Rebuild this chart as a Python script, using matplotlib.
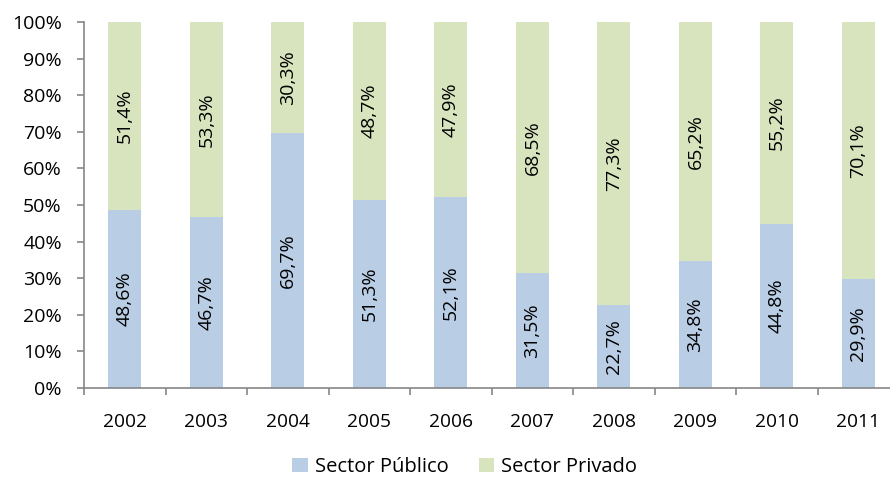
import numpy as np
import matplotlib.pyplot as plt
from matplotlib.ticker import FixedLocator, PercentFormatter

plt.rcParams['font.family'] = ['Open Sans', 'DejaVu Sans']

years = ['2002', '2003', '2004', '2005', '2006', '2007', '2008', '2009', '2010', '2011']
publico = [48.6, 46.7, 69.7, 51.3, 52.1, 31.5, 22.7, 34.8, 44.8, 29.9]
privado = [51.4, 53.3, 30.3, 48.7, 47.9, 68.5, 77.3, 65.2, 55.2, 70.1]

c_pub = '#B9CDE5'
c_priv = '#D7E4BD'
axis_col = '#868686'

fig = plt.figure(figsize=(8.9, 4.79), dpi=100)
# plot area runs slightly past the right edge, as in the original
ax = fig.add_axes([0.0944, 0.19, 0.916, 0.764])
ax.spines['bottom'].set_clip_on(False)

x = np.arange(len(years))
b1 = ax.bar(x, publico, width=0.405, color=c_pub, label='Sector Público')
b2 = ax.bar(x, privado, width=0.405, bottom=publico, color=c_priv, label='Sector Privado')

for i in range(len(years)):
    ax.text(x[i], publico[i] / 2, f'{publico[i]:.1f}%'.replace('.', ','),
            rotation=90, ha='center', va='center', fontsize=14, color='black')
    ax.text(x[i], publico[i] + privado[i] / 2, f'{privado[i]:.1f}%'.replace('.', ','),
            rotation=90, ha='center', va='center', fontsize=14, color='black')

ax.set_xlim(-0.5, len(years) - 0.5)
ax.set_ylim(0, 100)
ax.set_yticks(np.arange(0, 101, 10))
ax.yaxis.set_major_formatter(PercentFormatter(decimals=0))
ax.set_xticks(x)
ax.set_xticklabels(years)
ax.xaxis.set_minor_locator(FixedLocator(np.arange(-0.5, len(years), 1)))
ax.tick_params(axis='x', which='major', length=0, pad=18, labelsize=13.8)
ax.tick_params(axis='x', which='minor', length=5, color=axis_col, width=1.2)
ax.tick_params(axis='y', length=5, color=axis_col, width=1.2, labelsize=14, pad=11)

for s in ['top', 'right']:
    ax.spines[s].set_visible(False)
for s in ['left', 'bottom']:
    ax.spines[s].set_color(axis_col)
    ax.spines[s].set_linewidth(1.2)

fig.legend(handles=[b1, b2], loc='lower center', bbox_to_anchor=(0.522, 0.0), ncol=2,
           frameon=False, fontsize=14.5, handlelength=0.75, handleheight=0.75,
           handletextpad=0.35, columnspacing=1.5, borderaxespad=0.05, borderpad=0.05)

fig.savefig('out.png', dpi=100)
